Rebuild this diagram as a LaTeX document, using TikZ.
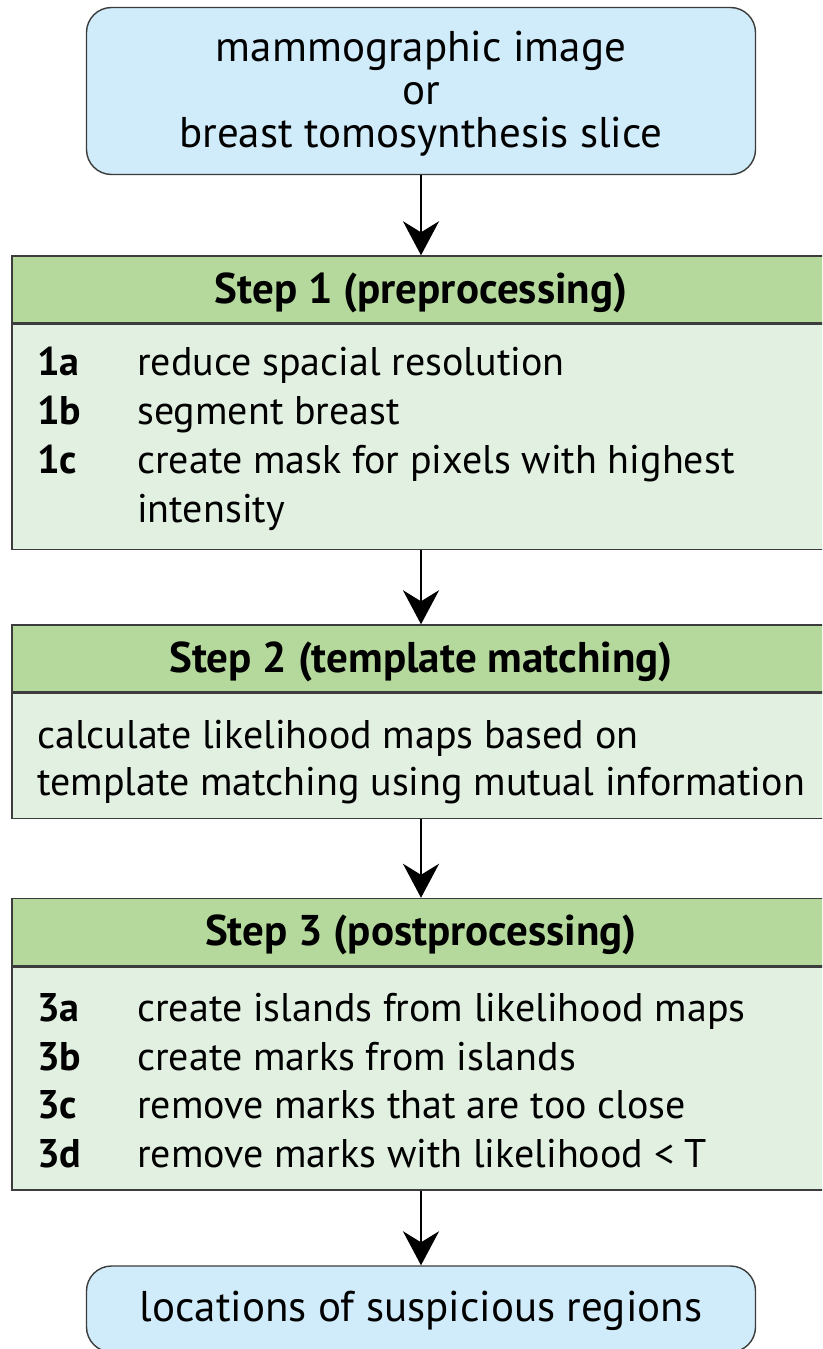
\documentclass[tikz,border=0pt]{standalone}
\usepackage{fontspec}
\setmainfont{PT Sans}
\usetikzlibrary{arrows.meta,positioning}

\definecolor{inblue}{HTML}{D0ECFA}
\definecolor{headgreen}{HTML}{B5D99C}
\definecolor{bodygreen}{HTML}{E2F0E1}
\definecolor{edgegray}{HTML}{3C3C3C}

\tikzset{
	base/.style={draw=edgegray, line width=1.4pt, inner sep=0pt},
	endbox/.style={base, fill=inblue, rounded corners=25pt, minimum width=669pt, align=center,
		font=\fontsize{43}{43}\selectfont},
	headbox/.style={base, fill=headgreen, minimum width=818pt, minimum height=67pt,
		text height=32pt, text depth=5pt, font=\fontsize{43}{44}\selectfont\bfseries},
	bodybox/.style={base, fill=bodygreen, minimum width=818pt, anchor=north},
	item/.style={inner sep=0pt, anchor=base west, font=\fontsize{40}{42}\selectfont},
	tag/.style={item, font=\fontsize{40}{42}\selectfont\bfseries},
	flow/.style={line width=2.5pt, -{Stealth[length=34pt, width=36pt, inset=11pt]}}
}

\begin{document}
\begin{tikzpicture}[x=1pt, y=-1pt]
			\clip (0,0) rectangle (822,1349);
			\fill[white] (0,0) rectangle (822,1349);
			% input
			\node[endbox, minimum height=167pt] (input) at (421,91) {};
			\node[align=center, font=\fontsize{43}{43}\selectfont, inner sep=0pt] (intext) at (421,94)
				{mammographic image\\or\\breast tomosynthesis slice};
			% step 1
			\node[headbox] (s1head) at (421,289.5) {Step 1 (preprocessing)};
			\node[bodybox, minimum height=225pt] (s1body) at (s1head.south) {};
			\node[tag] (t1a) at (37,375) {1a};
			\node[item] (l1a) at (137,375) {reduce spacial resolution};
			\node[tag] (t1b) at (37,424) {1b};
			\node[item] (l1b) at (137,424) {segment breast};
			\node[tag] (t1c) at (37,473) {1c};
			\node[item] (l1c) at (137,473) {create mask for pixels with highest};
			\node[item] (l1d) at (137,522) {intensity};
			% step 2
			\node[headbox] (s2head) at (421,658.5) {Step 2 (template matching)};
			\node[bodybox, minimum height=125pt] (s2body) at (s2head.south) {};
			\node[item] (l2a) at (37,748) {calculate likelihood maps based on};
			\node[item] (l2b) at (37,795) {template matching using mutual information};
			% step 3
			\node[headbox] (s3head) at (421,932) {Step 3 (postprocessing)};
			\node[bodybox, minimum height=223pt] (s3body) at (s3head.south) {};
			\node[tag] (t3a) at (37,1021) {3a};
			\node[item] (l3a) at (137,1021) {create islands from likelihood maps};
			\node[tag] (t3b) at (37,1070) {3b};
			\node[item] (l3b) at (137,1070) {create marks from islands};
			\node[tag] (t3c) at (37,1118) {3c};
			\node[item] (l3c) at (137,1118) {remove marks that are too close};
			\node[tag] (t3d) at (37,1167) {3d};
			\node[item] (l3d) at (137,1167) {remove marks with likelihood < T};
			% output
			\node[endbox, minimum height=86pt] (output) at (421,1309) {};
			\node[font=\fontsize{43}{43}\selectfont, inner sep=0pt] (outtext) at (421,1311)
				{locations of suspicious regions};
			% arrows
			\draw[flow] (input) -- (s1head);
			\draw[flow] (s1body) -- (s2head);
			\draw[flow] (s2body) -- (s3head);
			\draw[flow] (s3body) -- (output);
		\end{tikzpicture}
\end{document}
